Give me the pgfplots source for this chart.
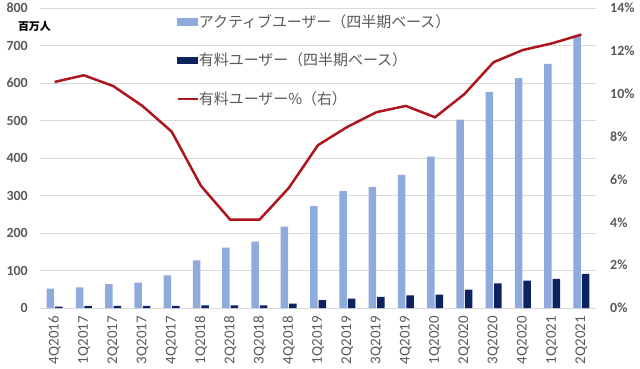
\documentclass[border=0pt]{standalone}
\usepackage{pgfplots}
\pgfplotsset{compat=1.18}
\usepackage{fontspec}
\setmainfont{Carlito}
\newfontfamily\jp{Noto Sans CJK JP}
\definecolor{actblue}{RGB}{143,170,220}
\definecolor{paidblue}{RGB}{12,35,95}
\definecolor{linered}{RGB}{172,22,28}
\definecolor{gridgray}{RGB}{217,217,217}
\definecolor{txtgray}{RGB}{89,89,89}
\pgfplotstableread{
x act paid pct
0 52 4 10.55
1 55 6 10.86
2 64 6 10.36
3 68 6 9.43
4 87 6 8.23
5 127 7 5.70
6 161 7 4.12
7 177 7 4.12
8 217 12 5.60
9 272 21 7.60
10 312 25 8.45
11 323 30 9.14
12 355 34 9.43
13 404 36 8.90
14 502 49 9.98
15 576 66 11.47
16 613 73 12.04
17 651 78 12.35
18 728 91 12.76
}\data
\begin{document}
\begin{tikzpicture}
\useasboundingbox (-40bp,-61bp) rectangle (600bp,308bp);
\begin{axis}[
  at={(0,0)}, anchor=south west,
  scale only axis, width=556bp, height=300bp,
  xmin=-0.5, xmax=18.5, ymin=0, ymax=800,
  ytick={0,100,...,800},
  yticklabels={0,100,200,300,400,500,600,700,800},
  xtick={0,...,18},
  xticklabels={4Q2016,1Q2017,2Q2017,3Q2017,4Q2017,1Q2018,2Q2018,3Q2018,4Q2018,1Q2019,2Q2019,3Q2019,4Q2019,1Q2020,2Q2020,3Q2020,4Q2020,1Q2021,2Q2021},
  x tick label style={rotate=90, anchor=east, inner sep=0pt, font=\fontsize{15}{15}\selectfont, text=txtgray},
  y tick label style={anchor=east, inner sep=0pt, font=\bfseries\fontsize{14}{14}\selectfont, text=txtgray},
  xticklabel shift=8bp, yticklabel shift=12bp,
  major tick length=0pt,
  axis line style={draw=none},
  ymajorgrids, grid style={draw=gridgray, line width=0.8bp},
  ybar=1bp, bar width=7.5bp,
  clip=false,
]
\addplot[fill=actblue, draw=none] table[x=x, y=act] {\data};
\addplot[fill=paidblue, draw=none] table[x=x, y=paid] {\data};
\node[font=\jp\bfseries\fontsize{11}{11}\selectfont, anchor=center] at (axis description cs:-0.01,0.937) {百万人};
\end{axis}
\begin{axis}[
  at={(0,0)}, anchor=south west,
  scale only axis, width=556bp, height=300bp,
  xmin=-0.5, xmax=18.5, ymin=0, ymax=14,
  axis y line*=right, axis x line=none,
  ytick={0,2,...,14},
  yticklabels={0\%,2\%,4\%,6\%,8\%,10\%,12\%,14\%},
  y tick label style={anchor=west, inner sep=0pt, font=\bfseries\fontsize{14}{14}\selectfont, text=txtgray},
  yticklabel shift=14bp,
  major tick length=0pt,
  axis line style={draw=none},
  legend style={draw=none, fill=none, at={(0.245,0.98)}, anchor=north west, inner sep=0pt,
    row sep=24.5bp, font=\jp\fontsize{15}{15}\selectfont, text=txtgray,
    /tikz/every even column/.append style={column sep=2bp},
    nodes={inner sep=0pt}},
  legend cell align=left,
]
\addlegendimage{legend image code/.code={\fill[actblue] (0bp,-3.4bp) rectangle (20bp,3.4bp);}}
\addlegendentry{アクティブユーザー（四半期ベース）}
\addlegendimage{legend image code/.code={\fill[paidblue] (0bp,-3.4bp) rectangle (20bp,3.4bp);}}
\addlegendentry{有料ユーザー（四半期ベース）}
\addplot[linered, line width=2.5bp, mark=none, legend image code/.code={\draw[linered, line width=2.5bp] (0bp,0bp) -- (20bp,0bp);}] table[x=x, y=pct] {\data};
\addlegendentry{有料ユーザー\%（右）}
\end{axis}
\end{tikzpicture}
\end{document}
